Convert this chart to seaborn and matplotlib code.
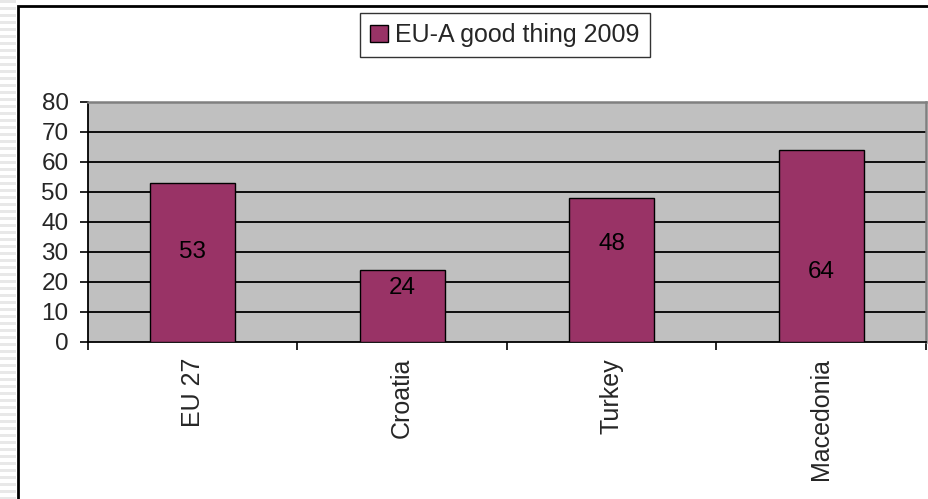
import matplotlib
matplotlib.use("Agg")
import matplotlib.pyplot as plt
import seaborn as sns
import pandas as pd
from matplotlib.patches import Rectangle

categories = ["EU 27", "Croatia", "Turkey", "Macedonia"]
values = [53, 24, 48, 64]
label_y = [30, 18, 32.7, 23.3]
series_name = "EU-A good thing 2009"
yticks = [0, 10, 20, 30, 40, 50, 60, 70, 80]

sns.set_theme(style="white")
plt.rcParams['font.family'] = ['Liberation Sans', 'DejaVu Sans']

W, H = 929, 499
fig = plt.figure(figsize=(W / 100, H / 100), dpi=100)
fig.patch.set_facecolor("white")

# striped left margin
for yy in range(0, H, 7):
    fig.patches.append(Rectangle((0, 1 - (yy + 3) / H), 16 / W, 3 / H,
                                 transform=fig.transFigure, facecolor="#e8e8e8",
                                 edgecolor="none", zorder=-3))
# outer frame
fig.patches.append(Rectangle((18 / W, -0.05), 1.05, 1 - 6 / H + 0.05,
                             transform=fig.transFigure, facecolor="white",
                             edgecolor="black", linewidth=2, zorder=-2))

ax = fig.add_axes([88 / W, 1 - 342 / H, (926 - 88) / W, (342 - 102) / H])
ax.set_zorder(1)
ax.set_facecolor("#c0c0c0")

df = pd.DataFrame({"cat": categories, "val": values})
sns.barplot(data=df, x="cat", y="val", ax=ax, color="#993366", width=0.405,
            edgecolor="black", linewidth=1.0, saturation=1, label=series_name, zorder=3)

ax.set_ylim(0, 80)
ax.set_xlim(-0.5, len(categories) - 0.5)
ax.set_yticks(yticks)
ax.set_yticklabels([str(t) for t in yticks], fontsize=17.5)
for t in yticks[1:-1]:
    ax.axhline(t, color="black", linewidth=1.3, zorder=1)

ax.set_xticks(range(len(categories)))
ax.set_xticklabels(categories, rotation=90, fontsize=18)
ax.tick_params(axis="x", length=0, pad=11.5)
ax.tick_params(axis="y", direction="out", length=6, width=1.2, color="black", left=True, pad=8)
# category boundary ticks
ax.set_xticks([i - 0.5 for i in range(len(categories) + 1)], minor=True)
ax.tick_params(axis="x", which="minor", direction="out", length=6, width=1.2, color="black", bottom=True)
ax.set_xlabel("")
ax.set_ylabel("")

for s in ["left", "bottom"]:
    ax.spines[s].set_color("black")
    ax.spines[s].set_linewidth(1.3)
for s in ["top", "right"]:
    ax.spines[s].set_color("#808080")
    ax.spines[s].set_linewidth(1.8)

for i, (v, ly) in enumerate(zip(values, label_y)):
    ax.text(i, ly, str(v), ha="center", va="center", fontsize=17.5, color="black", zorder=4)

leg = ax.legend(loc="upper center", bbox_to_anchor=(505 / W, (H - 13) / H), bbox_transform=fig.transFigure,
                frameon=True, fancybox=False, fontsize=18, handlelength=0.7, handleheight=0.7,
                handletextpad=0.3, borderpad=0.4, borderaxespad=0)
leg.get_frame().set_edgecolor("black")
leg.get_frame().set_linewidth(1.0)

fig.savefig("out.png", dpi=100)
